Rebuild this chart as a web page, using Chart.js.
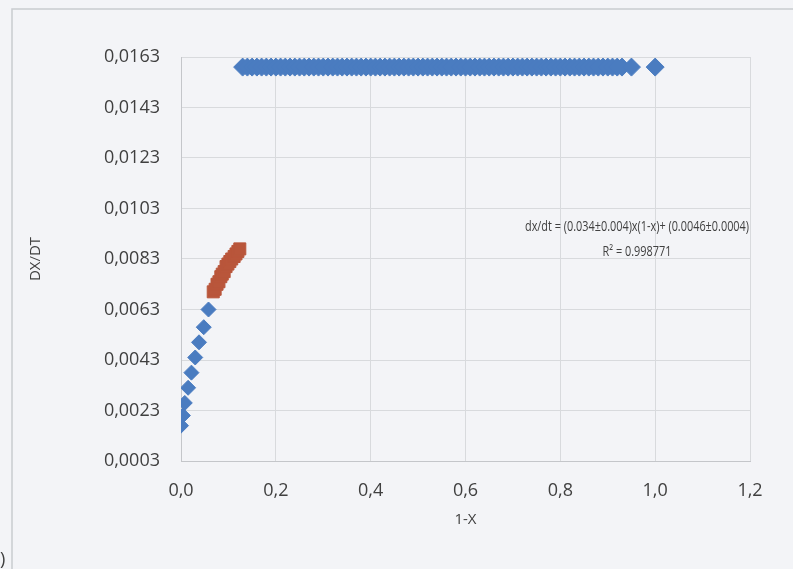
<!DOCTYPE html>
<html>
<head>
<meta charset="utf-8">
<script src="https://cdn.jsdelivr.net/npm/chart.js@4"></script>
<style>
    html, body { margin: 0; padding: 0; background: #f3f4f7; }
    #wrap { width: 793px; height: 569px; position: relative; }
</style>
</head>
<body>
<div id="wrap"><canvas id="chart" width="793" height="569"></canvas></div>
<script>
// ===== DATA =====
const xTicks = [0, 0.2, 0.4, 0.6, 0.8, 1.0, 1.2];
const yTicks = [0.0003, 0.0023, 0.0043, 0.0063, 0.0083, 0.0103, 0.0123, 0.0143, 0.0163];

// upper plateau (1-x, dx/dt)
const topX = [0.13, 0.14, 0.15, 0.16, 0.17, 0.18, 0.19, 0.20, 0.21, 0.22, 0.23, 0.24, 0.25, 0.26,
    0.27, 0.28, 0.29, 0.30, 0.31, 0.32, 0.33, 0.34, 0.35, 0.36, 0.37, 0.38, 0.39, 0.40, 0.41, 0.42,
    0.43, 0.44, 0.45, 0.46, 0.47, 0.48, 0.49, 0.50, 0.51, 0.52, 0.53, 0.54, 0.55, 0.56, 0.57, 0.58,
    0.59, 0.60, 0.61, 0.62, 0.63, 0.64, 0.65, 0.66, 0.67, 0.68, 0.69, 0.70, 0.71, 0.72, 0.73, 0.74,
    0.75, 0.76, 0.77, 0.78, 0.79, 0.80, 0.81, 0.82, 0.83, 0.84, 0.85, 0.86, 0.87, 0.88, 0.89, 0.90,
    0.91, 0.92, 0.93, 0.95, 1.00];
const topY = [0.0159, 0.0159, 0.0159, 0.0159, 0.0159, 0.0159, 0.0159, 0.0159, 0.0159, 0.0159,
    0.0159, 0.0159, 0.0159, 0.0159, 0.0159, 0.0159, 0.0159, 0.0159, 0.0159, 0.0159, 0.0159, 0.0159,
    0.0159, 0.0159, 0.0159, 0.0159, 0.0159, 0.0159, 0.0159, 0.0159, 0.0159, 0.0159, 0.0159, 0.0159,
    0.0159, 0.0159, 0.0159, 0.0159, 0.0159, 0.0159, 0.0159, 0.0159, 0.0159, 0.0159, 0.0159, 0.0159,
    0.0159, 0.0159, 0.0159, 0.0159, 0.0159, 0.0159, 0.0159, 0.0159, 0.0159, 0.0159, 0.0159, 0.0159,
    0.0159, 0.0159, 0.0159, 0.0159, 0.0159, 0.0159, 0.0159, 0.0159, 0.0159, 0.0159, 0.0159, 0.0159,
    0.0159, 0.0159, 0.0159, 0.0159, 0.0159, 0.0159, 0.0159, 0.0159, 0.0159, 0.0159, 0.0159, 0.0159,
    0.0159];

// rising branch near 1-x = 0
const lowX = [0.000, 0.004, 0.008, 0.015, 0.022, 0.030, 0.038, 0.048, 0.058];
const lowY = [0.0017, 0.0021, 0.0026, 0.0032, 0.0038, 0.0044, 0.0050, 0.0056, 0.0063];

// fitted points
const fitX = [0.068, 0.072, 0.076, 0.080, 0.084, 0.087, 0.091, 0.095, 0.099, 0.103, 0.107, 0.112, 0.116, 0.120, 0.124];
const fitY = [0.0070, 0.0071, 0.0073, 0.0074, 0.0076, 0.0077, 0.0078, 0.0080, 0.0081, 0.0082, 0.0083, 0.0084, 0.0085, 0.0086, 0.0087];

const fitLabel = ["dx/dt = (0.034±0.004)x(1-x)+ (0.0046±0.0004)", "R² = 0.998771"];

const pts = (xs, ys) => xs.map((x, i) => ({ x: x, y: ys[i] }));
const comma = (v, d) => v.toFixed(d).replace(".", ",");

const BLUE = "#4a7cc0";
const RED = "#b9563b";

// ===== PLUGINS =====
const frame = {
    id: "frame",
    beforeDraw(chart) {
        const ctx = chart.ctx;
        ctx.save();
        ctx.strokeStyle = "#c9cbd0";
        ctx.lineWidth = 1.5;
        ctx.strokeRect(12, 9, 820, 620);
        ctx.restore();
    }
};

// trendline label, squeezed a bit so it reads like a narrow office font
const trendText = {
    id: "trendText",
    afterDatasetsDraw(chart) {
        const ctx = chart.ctx;
        const a = chart.chartArea;
        const cx = a.left + 456;
        ctx.save();
        ctx.font = "14px 'Open Sans'";
        ctx.fillStyle = "#404040";
        ctx.textAlign = "center";
        ctx.textBaseline = "middle";
        const k = 224 / ctx.measureText(fitLabel[0]).width;
        ctx.translate(cx, 0);
        ctx.scale(k, 1);
        ctx.fillText(fitLabel[0], 0, 227);
        ctx.fillText(fitLabel[1], 0, 252);
        ctx.restore();

        ctx.save();
        ctx.fillStyle = "#404040";
        ctx.font = "18px 'Open Sans'";
        ctx.textBaseline = "middle";
        ctx.fillText(")", 0, 560);
        ctx.restore();
    }
};

// ===== CHART =====
new Chart(document.getElementById("chart"), {
    type: "scatter",
    data: {
        datasets: [
            {
                label: "top",
                data: pts(topX, topY),
                backgroundColor: BLUE,
                borderColor: BLUE,
                pointStyle: "rectRot",
                pointRadius: 9
            },
            {
                label: "low",
                data: pts(lowX, lowY),
                backgroundColor: BLUE,
                borderColor: BLUE,
                pointStyle: "rectRot",
                pointRadius: 7.5
            },
            {
                label: "fit",
                data: pts(fitX, fitY),
                backgroundColor: RED,
                borderColor: RED,
                pointStyle: "rect",
                pointRadius: 8.5
            }
        ]
    },
    options: {
        responsive: false,
        animation: false,
        layout: { padding: { left: 0, right: 43, top: 57, bottom: 0 } },
        plugins: {
            legend: { display: false },
            tooltip: { enabled: false }
        },
        scales: {
            x: {
                type: "linear",
                min: 0,
                max: 1.2,
                afterBuildTicks: s => { s.ticks = xTicks.map(v => ({ value: v })); },
                afterFit: s => { s.height = 108; },
                grid: { color: "#d8dadd", drawTicks: false },
                border: { color: "#c4c6ca" },
                ticks: {
                    padding: 19,
                    color: "#404040",
                    font: { family: "'Open Sans'", size: 18 },
                    callback: v => comma(v, 1)
                },
                title: {
                    display: true,
                    text: "1-X",
                    color: "#404040",
                    font: { family: "'Open Sans'", size: 15 },
                    padding: { bottom: 40 }
                }
            },
            y: {
                type: "linear",
                min: 0.0003,
                max: 0.0163,
                afterBuildTicks: s => { s.ticks = yTicks.map(v => ({ value: v })); },
                afterFit: s => { s.width = 181; },
                grid: { color: "#d8dadd", drawTicks: false },
                border: { color: "#c4c6ca" },
                ticks: {
                    padding: 21,
                    color: "#404040",
                    font: { family: "'Open Sans'", size: 18 },
                    callback: v => comma(v, 4)
                },
                title: {
                    display: true,
                    text: "DX/DT",
                    color: "#404040",
                    font: { family: "'Open Sans'", size: 15 },
                    padding: { top: 27 }
                }
            }
        }
    },
    plugins: [frame, trendText]
});
</script>
</body>
</html>
